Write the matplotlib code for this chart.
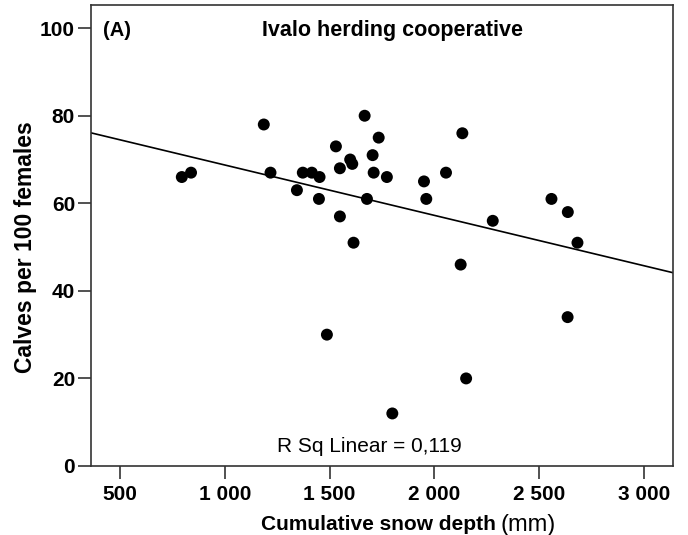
import numpy as np
from matplotlib import pyplot as plt

# cumulative snow depth (mm) and calves per 100 females
snow_depth = [795, 839, 1186, 1218, 1344, 1372, 1415, 1452, 1449, 1530,
              1549, 1549, 1598, 1608, 1667, 1705, 1710, 1678, 1614, 1734,
              1773, 1950, 1961, 2055, 2133, 2278, 2558, 2636, 2682, 1487,
              2125, 2635, 2151, 1799]
calves = [66, 67, 78, 67, 63, 67, 67, 66, 61, 73,
          68, 57, 70, 69, 80, 71, 67, 61, 51, 75,
          66, 65, 61, 67, 76, 56, 61, 58, 51, 30,
          46, 34, 20, 12]
x_ticks = [500, 1000, 1500, 2000, 2500, 3000]
x_tick_labels = ['500', '1 000', '1 500', '2 000', '2 500', '3 000']
y_ticks = [0, 20, 40, 60, 80, 100]

plt.rcParams['font.family'] = ['Liberation Sans', 'DejaVu Sans']

fig = plt.figure(figsize=(6.88, 5.35), dpi=100)
ax = fig.add_axes([0.1323, 0.129, 0.8457, 0.8617])

x = np.array(snow_depth, dtype=float)
y = np.array(calves, dtype=float)
slope, intercept = np.polyfit(x, y, 1)

xlim = (362, 3137)
xx = np.array(xlim)
ax.plot(xx, intercept + slope * xx, color='black', lw=1.2, zorder=2)
ax.scatter(x, y, s=74, color='black', edgecolors='none', zorder=3)

ax.set_xlim(*xlim)
ax.set_ylim(0, 105.3)
ax.set_xticks(x_ticks)
ax.set_xticklabels(x_tick_labels)
ax.set_yticks(y_ticks)
for lab in ax.get_xticklabels() + ax.get_yticklabels():
    lab.set_fontweight('bold')
    lab.set_fontsize(15)
ax.tick_params(direction='out', length=9.5, width=1.2, color='#333333')
ax.tick_params(axis='y', pad=2)
ax.tick_params(axis='x', pad=4)
for sp in ax.spines.values():
    sp.set_color('#333333')
    sp.set_linewidth(1.2)

ax.set_ylabel('Calves per 100 females', fontsize=16.5, fontweight='bold', va='center')
ax.yaxis.set_label_coords(-0.112, 0.475)

# x label: bold text + normal "(mm)"
ax.text(0.696, -0.107, 'Cumulative snow depth', transform=ax.transAxes,
        ha='right', va='top', fontsize=15, fontweight='bold')
ax.text(0.703, -0.105, '(mm)', transform=ax.transAxes,
        ha='left', va='top', fontsize=17)

ax.text(0.519, 0.945, 'Ivalo herding cooperative', transform=ax.transAxes,
        ha='center', va='center', fontsize=15.5, fontweight='bold')
ax.text(0.02, 0.945, '(A)', transform=ax.transAxes,
        ha='left', va='center', fontsize=14.5, fontweight='bold')
ax.text(0.4785, 0.043, 'R Sq Linear = 0,119',
        transform=ax.transAxes, ha='center', va='center', fontsize=15)

plt.savefig('out.png', dpi=100)
